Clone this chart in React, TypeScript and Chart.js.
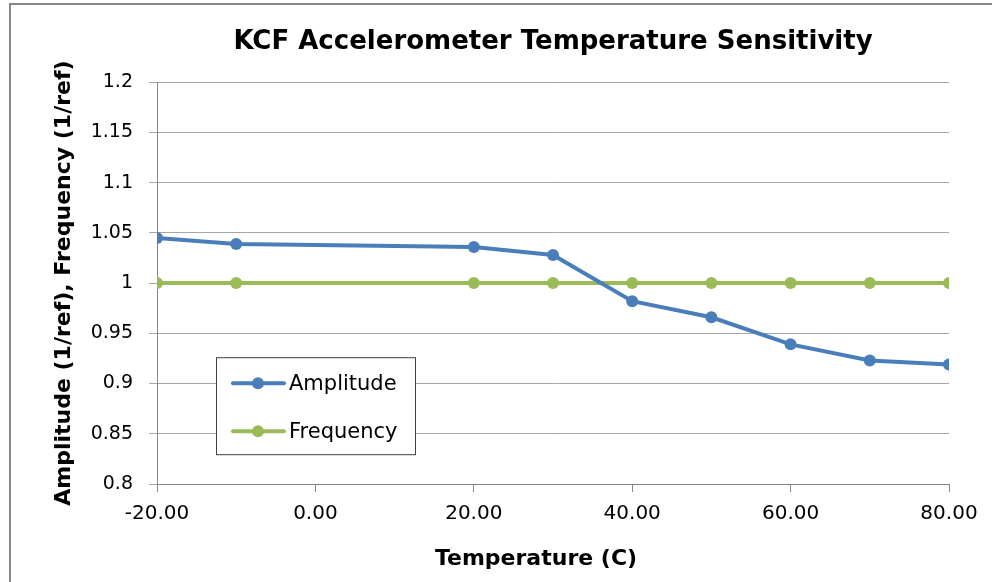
import React, { useEffect, useRef } from "react";
import { Chart, registerables } from "chart.js";

Chart.register(...registerables);

// ---- data ----
const chartTitle = "KCF Accelerometer Temperature Sensitivity";
const xAxisTitle = "Temperature (C)";
const yAxisTitle = "Amplitude (1/ref), Frequency (1/ref)";
const temperatures = [-20, -10, 20, 30, 40, 50, 60, 70, 80];
const amplitude = [1.045, 1.039, 1.036, 1.028, 0.982, 0.966, 0.939, 0.923, 0.919];
const frequency = [1, 1, 1, 1, 1, 1, 1, 1, 1];
const seriesNames = ["Amplitude", "Frequency"];
const xTicks = [-20, 0, 20, 40, 60, 80];
const yTicks = [0.8, 0.85, 0.9, 0.95, 1, 1.05, 1.1, 1.15, 1.2];

const BLUE = "#4A7EBB";
const GREEN = "#9BBB59";
const GRID = "#A6A6A6";
const AXIS = "#868686";

const legendPlugin = {
  id: "insideLegend",
  afterDraw(chart: any) {
    const { ctx, chartArea } = chart;
    const bx = chartArea.left + 59;
    const by = chartArea.top + 275;
    const bw = 199;
    const bh = 97;
    ctx.save();
    ctx.fillStyle = "#ffffff";
    ctx.fillRect(bx, by, bw, bh);
    ctx.strokeStyle = "#404040";
    ctx.lineWidth = 1;
    ctx.strokeRect(bx + 0.5, by + 0.5, bw, bh);
    const rows = [26, 74];
    chart.data.datasets.forEach((ds: any, i: number) => {
      const y = by + rows[i];
      ctx.strokeStyle = ds.borderColor;
      ctx.lineWidth = 4;
      ctx.lineCap = "round";
      ctx.beginPath();
      ctx.moveTo(bx + 17, y);
      ctx.lineTo(bx + 68, y);
      ctx.stroke();
      ctx.fillStyle = ds.borderColor;
      ctx.beginPath();
      ctx.arc(bx + 42, y, 6, 0, Math.PI * 2);
      ctx.fill();
      ctx.fillStyle = "#000";
      ctx.font = "21px 'DejaVu Sans'";
      ctx.textAlign = "left";
      ctx.textBaseline = "middle";
      ctx.fillText(ds.label, bx + 73, y + 1);
    });
    ctx.restore();
  },
};

const xTitlePlugin = {
  id: "xTitle",
  afterDraw(chart: any) {
    const { ctx, chartArea } = chart;
    ctx.save();
    ctx.fillStyle = "#000";
    ctx.font = "bold 22px 'DejaVu Sans'";
    ctx.textAlign = "center";
    ctx.textBaseline = "alphabetic";
    ctx.fillText(xAxisTitle, (chartArea.left + chartArea.right) / 2 - 17, 565);
    ctx.restore();
  },
};

export default function App() {
  const ref = useRef<HTMLCanvasElement | null>(null);

  useEffect(() => {
    if (!ref.current) return;
    const chart = new Chart(ref.current, {
      type: "line",
      data: {
        datasets: [
          {
            label: seriesNames[0],
            data: temperatures.map((t, i) => ({ x: t, y: amplitude[i] })),
            borderColor: BLUE,
            backgroundColor: BLUE,
            borderWidth: 4,
            pointRadius: 6,
            pointBorderWidth: 0,
            tension: 0,
          },
          {
            label: seriesNames[1],
            data: temperatures.map((t, i) => ({ x: t, y: frequency[i] })),
            borderColor: GREEN,
            backgroundColor: GREEN,
            borderWidth: 4,
            pointRadius: 6,
            pointBorderWidth: 0,
            tension: 0,
          },
        ],
      },
      options: {
        responsive: false,
        animation: false,
        layout: { padding: { left: 0, right: 43, top: 0, bottom: 0 } },
        plugins: {
          legend: { display: false },
          tooltip: { enabled: false },
          title: {
            display: true,
            text: chartTitle,
            fullSize: false,
            color: "#000",
            font: { family: "'DejaVu Sans'", size: 26, weight: "bold" },
            padding: { top: 27, bottom: 24 },
          },
        },
        scales: {
          x: {
            type: "linear",
            min: -20,
            max: 80,
            afterFit: (s: any) => {
              s.height = 98;
            },
            afterBuildTicks: (s: any) => {
              s.ticks = xTicks.map((v) => ({ value: v }));
            },
            ticks: {
              color: "#000",
              font: { family: "'DejaVu Sans'", size: 20 },
              padding: 10,
              maxRotation: 0,
              callback: (v: any) => Number(v).toFixed(2),
            },
            grid: {
              drawOnChartArea: false,
              drawTicks: true,
              tickLength: 8,
              color: AXIS,
            },
            border: { display: true, color: AXIS, width: 1 },
          },
          y: {
            type: "linear",
            min: 0.8,
            max: 1.2,
            afterFit: (s: any) => {
              s.width = 157;
            },
            afterBuildTicks: (s: any) => {
              s.ticks = yTicks.map((v) => ({ value: v }));
            },
            ticks: {
              color: "#000",
              font: { family: "'DejaVu Sans'", size: 19 },
              padding: 16,
              callback: (v: any) => String(Number(v)),
            },
            grid: {
              drawOnChartArea: true,
              drawTicks: true,
              tickLength: 8,
              color: GRID,
            },
            border: { display: true, color: AXIS, width: 1 },
            title: {
              display: true,
              text: yAxisTitle,
              color: "#000",
              font: { family: "'DejaVu Sans'", size: 22, weight: "bold" },
              padding: { top: 51, bottom: 0 },
            },
          },
        },
      },
      plugins: [legendPlugin, xTitlePlugin],
    } as any);
    return () => chart.destroy();
  }, []);

  return (
    <div
      style={{
        position: "absolute",
        left: 0,
        top: 0,
        width: 992,
        height: 582,
        overflow: "hidden",
        background: "#fff",
      }}
    >
      <canvas ref={ref} width={992} height={582} style={{ display: "block" }} />
      <div
        style={{
          position: "absolute",
          left: 9,
          top: 3,
          width: 983,
          height: 579,
          boxSizing: "border-box",
          borderLeft: "2px solid #878787",
          borderTop: "2px solid #878787",
          pointerEvents: "none",
        }}
      />
    </div>
  );
}
